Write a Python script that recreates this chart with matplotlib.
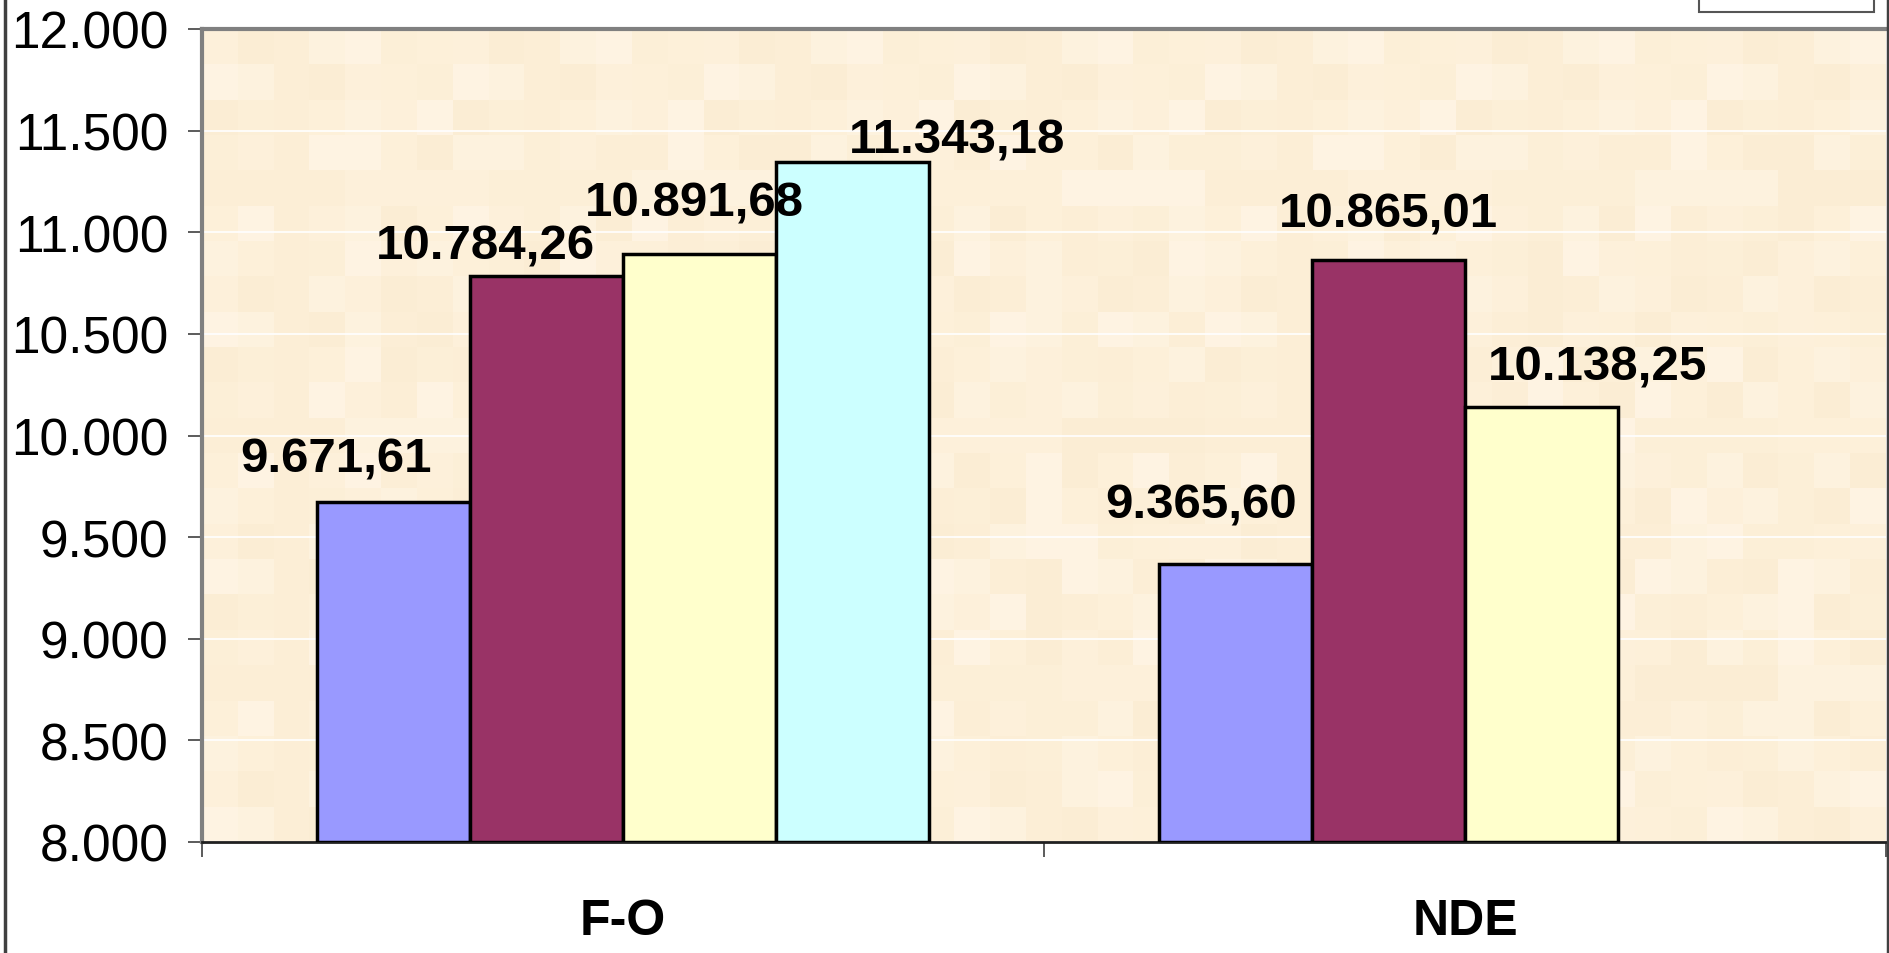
import numpy as np
import matplotlib
matplotlib.use("Agg")
import matplotlib.pyplot as plt
from matplotlib.lines import Line2D
from matplotlib.patches import Rectangle
from matplotlib.colors import ListedColormap
from matplotlib.ticker import FuncFormatter

# -----------------------------
# Data
# -----------------------------
categories = ["F-O", "NDE"]
series_1 = [9671.61, 9365.60]
series_2 = [10784.26, 10865.01]
series_3 = [10891.68, 10138.25]
series_4 = [11343.18, np.nan]   # no value for NDE

series = [series_1, series_2, series_3, series_4]
colors = ["#9999FF", "#993366", "#FFFFCC", "#CCFFFF"]

# label offsets in points (labels were dragged around in the original)
label_offsets = [
    [(-41, 31), (-25, 43)],
    [(-44, 22), (0, 33)],
    [(-4, 37), (40, 29)],
    [(75, 16), None],
]

def de_fmt(v, dec=2):
    s = f"{v:,.{dec}f}"
    return s.replace(",", "X").replace(".", ",").replace("X", ".")

# -----------------------------
# Figure
# -----------------------------
plt.rcParams['font.family'] = ['Liberation Sans', 'DejaVu Sans']
fig = plt.figure(figsize=(18.9, 9.54), dpi=100)
ax = fig.add_axes([202 / 1890, 1 - 843 / 954, (1886 - 202) / 1890, (843 - 30) / 954])

# parchment-like tiled background (subtle)
ny, nx = 23, 47
ii, jj = np.mgrid[0:ny, 0:nx]
tiles = (ii * 5 + jj * 3 + (ii * jj) % 7 + (ii // 3) * (jj // 4)) % 7
bg = ListedColormap(["#FDF0DA", "#FCEFD7", "#FDF2DE", "#FBEDD4",
                     "#FDF0D9", "#FEF3E2", "#FCEED6"])
ax.imshow(tiles, cmap=bg, aspect="auto", extent=(-0.5, 1.5, 8000, 12000),
          interpolation="nearest", zorder=0)

n = len(series)
width = 1 / (n + 1.5)
x = np.arange(len(categories))

for k, (vals, col) in enumerate(zip(series, colors)):
    pos = x + (k - (n - 1) / 2) * width
    ax.bar(pos, np.array(vals) - 8000, width=width, bottom=8000, color=col,
           edgecolor="black", linewidth=2.5, zorder=3)
    for p, v, off in zip(pos, vals, label_offsets[k]):
        if off is None or np.isnan(v):
            continue
        ax.annotate(de_fmt(v), (p, v), xytext=off, textcoords="offset points",
                    ha="center", va="center", fontsize=35.5, fontweight="bold", zorder=5)

ax.set_xlim(-0.5, 1.5)
ax.set_ylim(8000, 12000)
ax.set_yticks(np.arange(8000, 12001, 500))
ax.yaxis.set_major_formatter(FuncFormatter(lambda v, _: de_fmt(v, 0)))
ax.yaxis.grid(True, color="white", linewidth=1.2, zorder=1)
ax.set_axisbelow(True)

ax.set_xticks(x)
ax.set_xticklabels(categories, fontsize=36, fontweight="bold")
ax.tick_params(axis="x", length=0, pad=40)
ax.set_xticks([-0.5, 0.5, 1.5], minor=True)
ax.tick_params(axis="x", which="minor", length=11, width=1.2, color="#404040")
ax.tick_params(axis="y", labelsize=37, length=10, width=1.2, color="#404040", pad=14)

for s in ["top", "left"]:
    ax.spines[s].set_color("#808080")
    ax.spines[s].set_linewidth(3)
ax.spines["right"].set_visible(False)
ax.spines["bottom"].set_color("#202020")
ax.spines["bottom"].set_linewidth(2)

# chart-area border (left and right) and clipped legend box at top right
fig.add_artist(Line2D([5 / 1890, 5 / 1890], [0, 1], color="#404040", linewidth=2.5))
fig.add_artist(Line2D([1888 / 1890, 1888 / 1890], [0, 1], color="#404040", linewidth=2.5))
fig.add_artist(Rectangle((1699 / 1890, 1 - 13 / 954), (1874 - 1699) / 1890, 0.05,
                         facecolor="white", edgecolor="#555555", linewidth=1.5))

fig.savefig("out.png", dpi=100)
